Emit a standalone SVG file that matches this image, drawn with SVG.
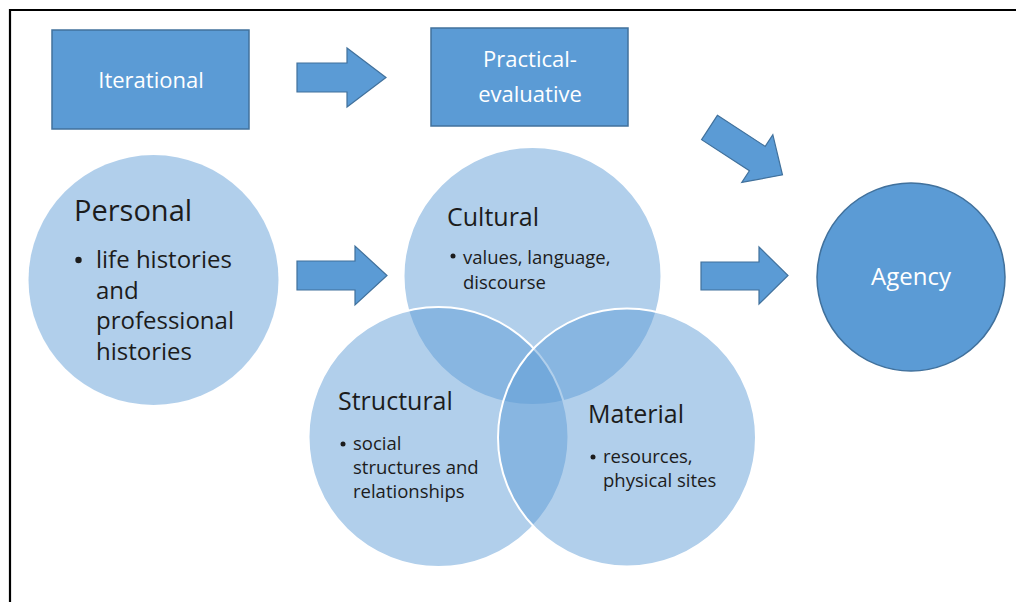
<svg xmlns="http://www.w3.org/2000/svg" width="1016" height="602" viewBox="0 0 1016 602">
<style>
.box{fill:#5B9BD5;stroke:#41719C;stroke-width:1.5}
.arr{fill:#5B9BD5;stroke:#41719C;stroke-width:1.2;stroke-linejoin:miter}
.venn{fill:#5B9BD5;fill-opacity:0.48;stroke:#ffffff;stroke-width:2}
.pers{fill:#5B9BD5;fill-opacity:0.48}
.agency{fill:#5B9BD5;stroke:#41719C;stroke-width:1.5}
text{font-family:"Open Sans","Liberation Sans",sans-serif}
.wt{fill:#ffffff;font-size:22px;text-anchor:middle}
.hd{fill:#1c1c1c;font-size:25px}
.bl{fill:#1c1c1c;font-size:18.5px}
.dot{fill:#1c1c1c}
</style>
<rect width="1016" height="602" fill="#ffffff"/>
<path d="M10,602 V10 H1016" fill="none" stroke="#000" stroke-width="2.2"/>

<g id="iterational">
<rect class="box" x="52" y="30" width="197" height="99"/>
<text class="wt" x="151" y="88">Iterational</text>
</g>

<g id="practical-evaluative">
<rect class="box" x="431" y="28" width="197" height="98"/>
<text class="wt" x="530" y="67">Practical-</text>
<text class="wt" x="530" y="102">evaluative</text>
</g>

<g id="personal">
<circle class="pers" cx="153.5" cy="280" r="125"/>
<text class="hd" x="74" y="221" style="font-size:29px">Personal</text>
<circle class="dot" cx="78.5" cy="260" r="3.2"/>
<text x="96" y="268" style="font-size:24px;fill:#1c1c1c">life histories</text>
<text x="96" y="299" style="font-size:24px;fill:#1c1c1c">and</text>
<text x="96" y="329" style="font-size:24px;fill:#1c1c1c">professional</text>
<text x="96" y="360" style="font-size:24px;fill:#1c1c1c">histories</text>
</g>

<g id="cultural">
<circle class="venn" cx="532.5" cy="276" r="129"/>
</g>
<g id="structural">
<circle class="venn" cx="438.5" cy="437" r="130"/>
</g>
<g id="material">
<circle class="venn" cx="627" cy="437.5" r="129"/>
</g>

<g id="cultural-text">
<text class="hd" x="447" y="226">Cultural</text>
<circle class="dot" cx="453" cy="256" r="2.5"/>
<text class="bl" x="463" y="264">values, language,</text>
<text class="bl" x="463" y="289">discourse</text>
</g>
<g id="structural-text">
<text class="hd" x="338" y="410">Structural</text>
<circle class="dot" cx="343" cy="444" r="2.5"/>
<text class="bl" x="353" y="450">social</text>
<text class="bl" x="353" y="474">structures and</text>
<text class="bl" x="353" y="498">relationships</text>
</g>
<g id="material-text">
<text class="hd" x="588" y="423">Material</text>
<circle class="dot" cx="593" cy="457" r="2.5"/>
<text class="bl" x="603" y="463">resources,</text>
<text class="bl" x="603" y="487">physical sites</text>
</g>

<g id="agency">
<circle class="agency" cx="911" cy="277" r="94"/>
<text class="wt" x="911" y="285" style="font-size:24px">Agency</text>
</g>

<g id="connectors">
<polygon class="arr" points="297,63 347,63 347,48 386,77.5 347,107 347,92 297,92"/>
<polygon class="arr" transform="translate(709.5,127.5) rotate(33)" points="0,-14.5 57,-14.5 57,-28.5 87,0 57,28.5 57,14.5 0,14.5"/>
<polygon class="arr" points="297,261 355,261 355,246 387,275.5 355,305 355,290 297,290"/>
<polygon class="arr" points="701,262 759,262 759,247 788,275.5 759,304 759,290 701,290"/>
</g>
</svg>
